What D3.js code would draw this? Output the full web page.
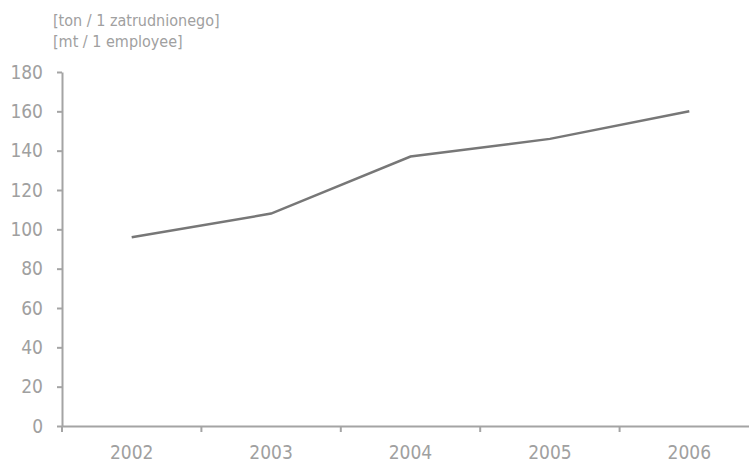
<!DOCTYPE html>
<html><head><meta charset="utf-8">
<script src="https://cdn.jsdelivr.net/npm/d3@7"></script>
<style>body{margin:0;background:#fff}svg{display:block}text{font-family:"Liberation Sans Narrow","DejaVu Sans Condensed","Roboto Condensed",sans-serif}</style>
</head><body><svg id="c" width="749" height="467"></svg>
<script>
const years = ["2002","2003","2004","2005","2006"];
const values = [96, 108, 137, 146, 160];
const yTicks = [0,20,40,60,80,100,120,140,160,180];
const unitLines = ["[ton / 1 zatrudnionego]","[mt / 1 employee]"];

const svg = d3.select("#c");
const x = d3.scaleBand().domain(years).range([62, 759]);
const y = d3.scaleLinear().domain([0,180]).range([426, 72]);
const axisColor = "#a4a4a4", textColor = "#a0a0a0";

// y axis
const ya = svg.append("g").attr("transform","translate(62,0)")
  .call(d3.axisLeft(y).tickValues(yTicks).tickSize(5).tickPadding(14).tickSizeOuter(0));
ya.select(".domain").attr("stroke",axisColor).attr("stroke-width",2);
ya.selectAll(".tick line").attr("stroke",axisColor).attr("stroke-width",2);
ya.selectAll(".tick text").attr("fill",textColor).style("font-size","19px");

// x axis
const xa = svg.append("g").attr("transform","translate(0,426)")
  .call(d3.axisBottom(x).tickSize(0).tickSizeOuter(0).tickPadding(20));
xa.select(".domain").attr("stroke",axisColor).attr("stroke-width",2);
xa.selectAll(".tick text").attr("fill",textColor).style("font-size","19px");
// boundary ticks
xa.selectAll(".bt").data(years).enter().append("line").attr("class","bt")
  .attr("x1",d=>x(d)).attr("x2",d=>x(d)).attr("y1",0).attr("y2",6)
  .attr("stroke",axisColor).attr("stroke-width",2);

// line
const line = d3.line().x((d,i)=>x(years[i])+x.bandwidth()/2).y(d=>y(d));
svg.append("path").datum(values).attr("d",line).attr("fill","none")
  .attr("stroke","#777").attr("stroke-width",2.5);

// unit labels
svg.selectAll(".unit").data(unitLines).enter().append("text").attr("class","unit")
  .attr("x",53).attr("y",(d,i)=>26+i*21).attr("fill",textColor).style("font-size","16px").text(d=>d);
</script></body></html>
